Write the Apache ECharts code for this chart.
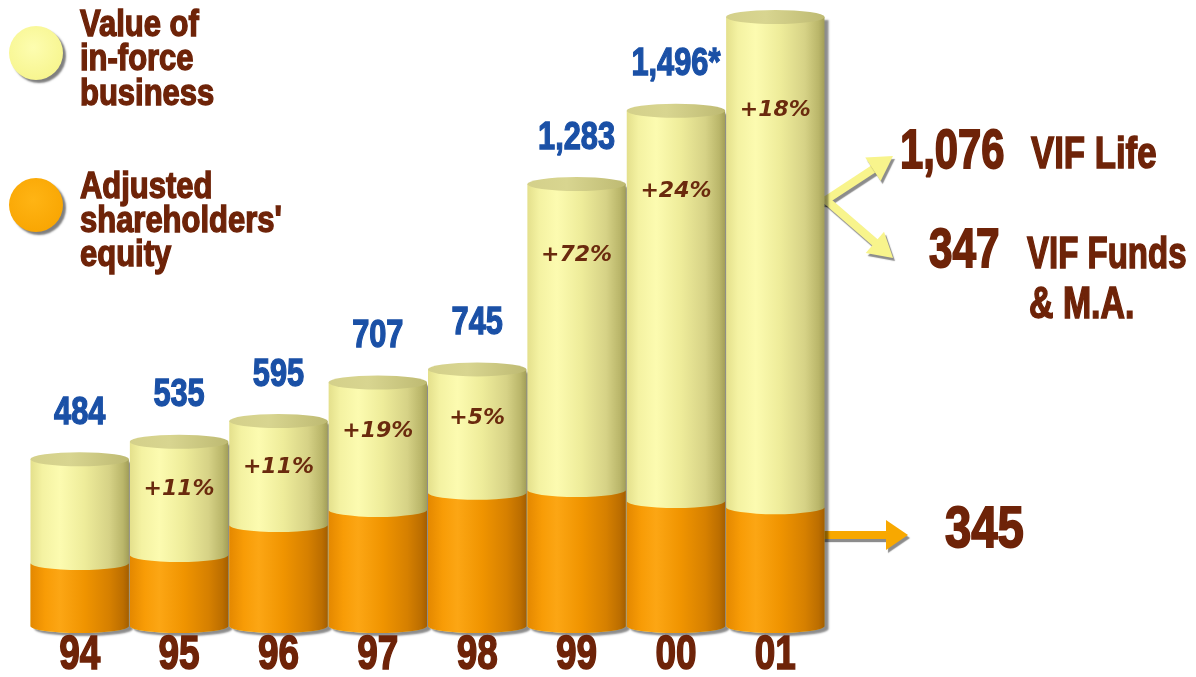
<!DOCTYPE html>
<html><head><meta charset="utf-8">
<script src="https://cdn.jsdelivr.net/npm/echarts@6/dist/echarts.min.js"></script>
<style>html,body{margin:0;padding:0;background:#fff}#c{width:1196px;height:677px}</style>
</head><body><div id="c"></div>
<script>
const categories = ['94','95','96','97','98','99','00','01'];
const equity = [183, 206, 293, 337, 387, 395, 363, 345];
const vif = [301, 329, 302, 370, 358, 888, 1133, 1423];
const totalLabels = ['484','535','595','707','745','1,283','1,496*',''];
const growthLabels = ['','+11%','+11%','+19%','+5%','+72%','+24%','+18%'];

const FONT = "'Liberation Sans',Arial,sans-serif";
const BROWN = '#6e2308';
const BLUE = '#1a50a6';

const yellowGrad = {type:'linear',x:0,y:0,x2:1,y2:0,colorStops:[
  {offset:0,color:'#e4e08c'},{offset:0.12,color:'#f4f2a2'},{offset:0.3,color:'#fcfbb0'},
  {offset:0.55,color:'#eeec9a'},{offset:0.8,color:'#d6d286'},{offset:0.94,color:'#bab66a'},{offset:1,color:'#a29e58'}]};
const orangeGrad = {type:'linear',x:0,y:0,x2:1,y2:0,colorStops:[
  {offset:0,color:'#e48800'},{offset:0.15,color:'#f89c06'},{offset:0.3,color:'#fca614'},
  {offset:0.55,color:'#f09400'},{offset:0.8,color:'#d68000'},{offset:0.94,color:'#bc6e00'},{offset:1,color:'#a45e00'}]};
const topGrad = {type:'linear',x:0,y:0,x2:1,y2:0,colorStops:[
  {offset:0,color:'#d4d08a'},{offset:0.4,color:'#d8d590'},{offset:1,color:'#bebA72'}]};

const data = categories.map((c,i)=>[i, equity[i], equity[i]+vif[i]]);

function ntext(x, y, text, size, scale, fill, align, sw){
  return {type:'text', x, y, scaleX:scale, scaleY:1,
    style:{text, x:0, y:0, align:align||'center', verticalAlign:'middle',
      font:`bold ${size}px ${FONT}`, fill, stroke:fill, lineWidth:sw||1.4}};
}

function renderItem(params, api){
  const i = api.value(0), e = api.value(1), t = api.value(2);
  const pB = api.coord([i,0]), pE = api.coord([i,e]), pT = api.coord([i,t]);
  const w = api.size([1,0])[0]*0.99;
  const cx = pB[0], x0 = cx-w/2, x1 = cx+w/2, rx = w/2, ry = 7;
  const yB = pB[1], yE = pE[1], yT = pT[1];
  const children = [];
  children.push({type:'path', shape:{pathData:
    `M${x0} ${yT} L${x1} ${yT} L${x1} ${yB} A${rx} ${ry} 0 0 1 ${x0} ${yB} Z`},
    style:{fill:yellowGrad, shadowColor:'rgba(0,0,0,0.45)', shadowOffsetX:4, shadowOffsetY:3, shadowBlur:2}});
  children.push({type:'path', shape:{pathData:
    `M${x0} ${yE} A${rx} ${ry} 0 0 0 ${x1} ${yE} L${x1} ${yB} A${rx} ${ry} 0 0 1 ${x0} ${yB} Z`},
    style:{fill:orangeGrad}});
  children.push({type:'path', shape:{pathData:
    `M${x0} ${yT} A${rx} ${ry} 0 1 0 ${x1} ${yT} A${rx} ${ry} 0 1 0 ${x0} ${yT} Z`},
    style:{fill:topGrad}});
  const tl = totalLabels[i];
  if (tl) children.push(ntext(cx, yT-46, tl, 38, 0.81, BLUE, 'center', 1.3));
  const gl = growthLabels[i];
  if (gl) {
    const yellowPx = yE - yT;
    const off = 34 + 0.12*yellowPx;
    children.push({type:'text', style:{text:gl, x:cx, y:yT+off, align:'center', verticalAlign:'middle',
      font:"italic bold 22px 'DejaVu Sans',sans-serif", fill:'#6a2a0e'}});
  }
  children.push(ntext(cx, yB+30, categories[i], 48, 0.77, BROWN, 'center', 1.6));
  return {type:'group', children};
}

function arrow(x1,y1,x2,y2,color,width,headLen,headHalf){
  const dx=x2-x1, dy=y2-y1, L=Math.hypot(dx,dy), ux=dx/L, uy=dy/L;
  const bx=x2-ux*headLen, by=y2-uy*headLen;
  const px=-uy, py=ux;
  const sh = {shadowColor:'rgba(0,0,0,0.45)',shadowOffsetX:2,shadowOffsetY:3,shadowBlur:1};
  return [
    {type:'line', shape:{x1,y1,x2:bx+ux*2,y2:by+uy*2}, style:Object.assign({stroke:color,lineWidth:width},sh)},
    {type:'polygon', shape:{points:[[x2,y2],[bx+px*headHalf,by+py*headHalf],[bx-px*headHalf,by-py*headHalf]]},
      style:Object.assign({fill:color},sh)}
  ];
}

function gtext(x, y, text, size, scale, sw){
  return {type:'text', x, y, scaleX:scale, scaleY:1,
    style:{text, x:0, y:0, align:'left', verticalAlign:'middle', font:`bold ${size}px ${FONT}`,
      fill:BROWN, stroke:BROWN, lineWidth:sw||1.4}};
}

const chart = echarts.init(document.getElementById('c'));
const graphics = [];
// legend
graphics.push({type:'circle', shape:{cx:36,cy:53,r:27}, style:{fill:{type:'radial',x:0.45,y:0.4,r:0.7,colorStops:[{offset:0,color:'#fdfdb0'},{offset:1,color:'#f6f48a'}]},shadowColor:'rgba(0,0,0,0.5)',shadowOffsetX:3,shadowOffsetY:3,shadowBlur:2}});
graphics.push({type:'circle', shape:{cx:36,cy:205,r:27}, style:{fill:{type:'radial',x:0.45,y:0.4,r:0.7,colorStops:[{offset:0,color:'#ffb414'},{offset:1,color:'#f8a400'}]},shadowColor:'rgba(0,0,0,0.5)',shadowOffsetX:3,shadowOffsetY:3,shadowBlur:2}});
const LS = 0.86;
graphics.push(gtext(80, 26, 'Value of', 36, LS));
graphics.push(gtext(80, 60, 'in-force', 36, LS));
graphics.push(gtext(80, 95, 'business', 36, LS));
graphics.push(gtext(80, 188, 'Adjusted', 36, LS));
graphics.push(gtext(80, 222, "shareholders'", 36, LS));
graphics.push(gtext(80, 256, 'equity', 36, LS));
// annotations
const AY = '#f8f48c', AO = '#f8a800';
graphics.push({type:'line', shape:{x1:793,y1:200,x2:830,y2:200}, style:{stroke:AY,lineWidth:8,shadowColor:'rgba(0,0,0,0.45)',shadowOffsetX:2,shadowOffsetY:3,shadowBlur:1}});
arrow(826,200,893,156,AY,8,24,14).forEach(g=>graphics.push(g));
arrow(826,200,893,258,AY,8,24,14).forEach(g=>graphics.push(g));
arrow(793,535,908,535,AO,8,22,15).forEach(g=>graphics.push(g));
graphics.push(gtext(900, 153, '1,076', 55, 0.76, 1.8));
graphics.push(gtext(1031, 156, 'VIF Life', 44, 0.79, 1.5));
graphics.push(gtext(929, 252, '347', 55, 0.77, 1.8));
graphics.push(gtext(1027, 256, 'VIF Funds', 44, 0.75, 1.5));
graphics.push(gtext(1029, 306, '& M.A.', 44, 0.77, 1.5));
graphics.push(gtext(945, 531, '345', 57, 0.83, 1.8));

chart.setOption({
  animation:false,
  backgroundColor:'#ffffff',
  grid:{left:30, right:371, top:6, bottom:51},
  xAxis:{type:'category', data:categories, show:false},
  yAxis:{type:'value', min:0, max:1800, interval:300, show:false, splitLine:{show:false}},
  series:[{type:'custom', renderItem, data, encode:{x:0,y:2}, clip:false}],
  graphic:graphics
});
</script></body></html>
